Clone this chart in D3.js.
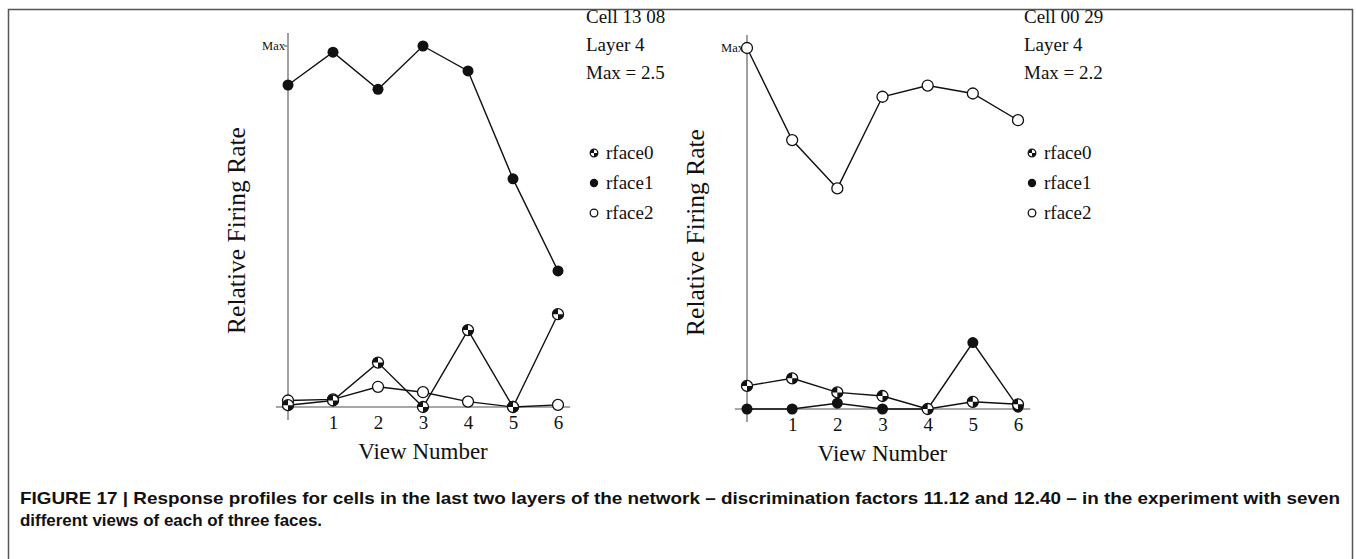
<!DOCTYPE html>
<html>
<meta charset="utf-8">
<style>
  body { margin: 0; background: #fff; }
  .serif { font-family: "Liberation Serif", "Times New Roman", serif; fill: #111; }
  .axisline { stroke: #8a8a8a; stroke-width: 1.6; }
  .series { fill: none; stroke: #111; stroke-width: 1.4; }
  .caption { font-family: "Liberation Sans Narrow", "Liberation Sans", Arial, sans-serif; font-weight: bold; font-size: 17px; fill: #111; }
</style>
<body>
<script src="https://d3js.org/d3.v7.min.js"></script>
<script>
  let width = 1356, height = 559;

  // view numbers 0..6
  let views = [0, 1, 2, 3, 4, 5, 6];
  let tickLabels = ["1", "2", "3", "4", "5", "6"];
  let seriesNames = ["rface0", "rface1", "rface2"];

  // Cell 13 08 (left), relative firing rate
  let leftR0 = [0.005, 0.018, 0.123, 0.0, 0.213, 0.0, 0.257];
  let leftR1 = [0.892, 0.983, 0.880, 1.0, 0.931, 0.632, 0.377];
  let leftR2 = [0.018, 0.021, 0.056, 0.041, 0.015, 0.0, 0.006];
  let leftInfo = ["Cell 13 08", "Layer 4", "Max = 2.5"];

  // Cell 00 29 (right)
  let rightR0 = [0.064, 0.085, 0.046, 0.036, 0.0, 0.020, 0.013];
  let rightR1 = [0.0, 0.0, 0.016, 0.0, 0.0, 0.184, 0.005];
  let rightR2 = [1.0, 0.745, 0.611, 0.865, 0.896, 0.874, 0.800];
  let rightInfo = ["Cell 00 29", "Layer 4", "Max = 2.2"];

  let captionLines = [
    "FIGURE 17 | Response profiles for cells in the last two layers of the network \u2013 discrimination factors 11.12 and 12.40 \u2013 in the experiment with seven",
    "different views of each of three faces."
  ];
  let captionWidths = [1320, 302];

  let svg = d3.select("body").append("svg")
    .attr("width", width)
    .attr("height", height);

  // frame
  svg.append("rect")
    .attr("x", 8.5).attr("y", 9.5)
    .attr("width", 1344).attr("height", 580)
    .attr("fill", "none")
    .attr("stroke", "#555")
    .attr("stroke-width", 1.5);

  // draws a marker of a given kind at (cx, cy)
  function marker(g, kind, cx, cy, r) {
    if (kind === "rface1") {
      g.append("circle").attr("cx", cx).attr("cy", cy).attr("r", r).attr("fill", "#111");
    } else if (kind === "rface2") {
      g.append("circle").attr("cx", cx).attr("cy", cy).attr("r", r)
        .attr("fill", "#fff").attr("stroke", "#111").attr("stroke-width", 1.3);
    } else {
      g.append("circle").attr("cx", cx).attr("cy", cy).attr("r", r)
        .attr("fill", "#fff").attr("stroke", "#111").attr("stroke-width", 1.3);
      let arc = d3.arc().innerRadius(0).outerRadius(r);
      g.append("path").attr("transform", `translate(${cx},${cy})`)
        .attr("d", arc({startAngle: -Math.PI / 2, endAngle: 0})).attr("fill", "#111");
      g.append("path").attr("transform", `translate(${cx},${cy})`)
        .attr("d", arc({startAngle: Math.PI / 2, endAngle: Math.PI})).attr("fill", "#111");
    }
  }

  function drawPanel(opts) {
    let x = d3.scaleLinear().domain([0, 6]).range([opts.x0, opts.x6]);
    let y = d3.scaleLinear().domain([0, 1]).range([opts.yZero, opts.yMax]);
    let g = svg.append("g");

    // axes
    g.append("line").attr("class", "axisline")
      .attr("x1", x(0)).attr("x2", x(0))
      .attr("y1", y(1.036)).attr("y2", y(-0.036));
    g.append("line").attr("class", "axisline")
      .attr("x1", x(-0.27)).attr("x2", x(6.27))
      .attr("y1", y(0)).attr("y2", y(0));
    g.append("line").attr("class", "axisline")
      .attr("x1", x(0) - 4).attr("x2", x(0))
      .attr("y1", y(1)).attr("y2", y(1));
    g.append("text").attr("class", "serif")
      .attr("x", x(0) - 3).attr("y", y(1) + 4)
      .attr("text-anchor", "end")
      .style("font-size", "12.5px")
      .text("Max");

    let xAxis = d3.axisBottom(x).tickValues(views.slice(1))
      .tickFormat((d, i) => tickLabels[i]).tickSize(0).tickPadding(9);
    let ax = g.append("g").attr("transform", `translate(0,${y(0)})`).call(xAxis);
    ax.select(".domain").remove();
    ax.selectAll("text").attr("class", "serif")
      .style("font-size", "19px").attr("fill", "#111");

    g.append("text").attr("class", "serif")
      .attr("x", x(3)).attr("y", y(0) + 52)
      .attr("text-anchor", "middle")
      .style("font-size", "23px")
      .text("View Number");

    g.append("text").attr("class", "serif")
      .attr("transform", `translate(${opts.ylabX},${(y(0) + y(1)) / 2 + 4}) rotate(-90)`)
      .attr("text-anchor", "middle")
      .style("font-size", "25.5px")
      .text("Relative Firing Rate");

    let line = d3.line().x((d, i) => x(views[i])).y(d => y(d));
    let data = [opts.r0, opts.r1, opts.r2];
    let order = opts.order;
    order.forEach(k => {
      g.append("path").attr("class", "series").attr("d", line(data[k]));
    });
    order.forEach(k => {
      data[k].forEach((v, i) => marker(g, seriesNames[k], x(views[i]), y(v), 5.5));
    });

    // info + legend
    opts.info.forEach((t, i) => {
      g.append("text").attr("class", "serif")
        .attr("x", opts.legX).attr("y", 23 + i * 28)
        .style("font-size", "19px").text(t);
    });
    seriesNames.forEach((s, i) => {
      let ly = 153 + i * 30;
      marker(g, s, opts.legX + 8, ly, s === "rface1" ? 4.2 : 3.8);
      g.append("text").attr("class", "serif")
        .attr("x", opts.legX + 20).attr("y", ly + 6)
        .style("font-size", "19px").text(s);
    });
  }

  drawPanel({x0: 288, x6: 558, yZero: 407, yMax: 46, ylabX: 245, legX: 586,
    r0: leftR0, r1: leftR1, r2: leftR2, info: leftInfo, order: [2, 0, 1]});
  drawPanel({x0: 747, x6: 1018, yZero: 409, yMax: 48, ylabX: 704, legX: 1024,
    r0: rightR0, r1: rightR1, r2: rightR2, info: rightInfo, order: [2, 1, 0]});

  captionLines.forEach((t, i) => {
    svg.append("text").attr("class", "caption")
      .attr("x", 20).attr("y", 504 + i * 22)
      .attr("textLength", captionWidths[i])
      .attr("lengthAdjust", "spacingAndGlyphs")
      .text(t);
  });
</script>
</body>
</html>
